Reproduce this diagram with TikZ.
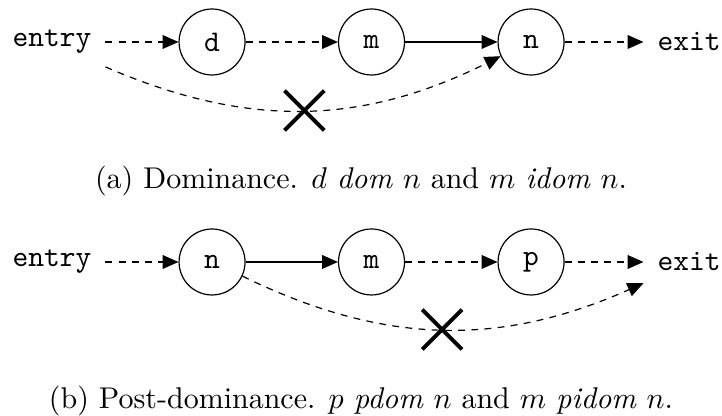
\documentclass[tikz,border=0pt]{standalone}
\usepackage{amsmath,amssymb,xcolor}
\usetikzlibrary{arrows.meta,positioning,shapes.misc,calc}
\tikzset{
  vnode/.style={draw, circle, font=\ttfamily, minimum size=0.773cm, inner sep=0pt},
  term/.style={font=\ttfamily, inner sep=4.5pt},
  flow/.style={-{Triangle[length=5.3pt, width=4.6pt]}},
  dflow/.style={flow, dash pattern=on 2.3pt off 2.1pt},
  xmark/.style={draw, solid, cross out, line width=1.3pt, minimum size=0.42cm, inner sep=0pt},
  caption/.style={anchor=base, font=\normalsize},
}
\begin{document}
\begin{tikzpicture}
\useasboundingbox (0,0) rectangle (8.458,4.862);

% --- (a) Dominance ---
\node[term] (entryA) at (0.609,4.370) {entry};
\node[vnode] (dA) at (2.484,4.370) {d};
\node[vnode] (mA) at (4.352,4.370) {m};
\node[vnode] (nA) at (6.221,4.370) {n};
\node[term] (exitA) at (8.072,4.370) {exit};

\draw[dflow] (entryA) -- (dA);
\draw[dflow] (dA) -- (mA);
\draw[flow] (mA) -- (nA);
\draw[dflow] (nA) -- (exitA);

% bypass path, cut
\draw[dflow] (entryA) to[bend right=25] coordinate[midway] (cutA) (nA);
\node[xmark] (crossA) at (cutA) {};

\node[caption] (capA) at (4.229,2.648)
      {(a) Dominance. $d$ \textit{dom} $n$ and $m$ \textit{idom} $n$.};

% --- (b) Post-dominance ---
\node[term] (entryB) at (0.609,1.793) {entry};
\node[vnode] (nB) at (2.484,1.793) {n};
\node[vnode] (mB) at (4.352,1.793) {m};
\node[vnode] (pB) at (6.221,1.793) {p};
\node[term] (exitB) at (8.072,1.793) {exit};

\draw[dflow] (entryB) -- (nB);
\draw[flow] (nB) -- (mB);
\draw[dflow] (mB) -- (pB);
\draw[dflow] (pB) -- (exitB);

% bypass path, cut
\draw[dflow] (nB) to[bend right=25] coordinate[midway] (cutB) (exitB);
\node[xmark] (crossB) at (cutB) {};

\node[caption] (capB) at (4.229,0.082)
      {(b) Post-dominance. $p$ \textit{pdom} $n$ and $m$ \textit{pidom} $n$.};

\end{tikzpicture}
\end{document}
